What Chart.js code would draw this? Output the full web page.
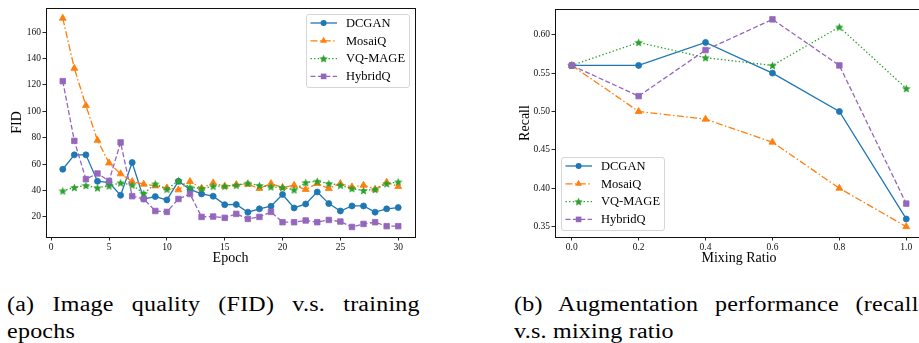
<!DOCTYPE html>
<html><head><meta charset="utf-8">
<script src="https://cdn.jsdelivr.net/npm/chart.js@4/dist/chart.umd.min.js"></script>
<style>
html,body{margin:0;padding:0;background:#fff;width:919px;height:343px;overflow:hidden;position:relative}
#c1{position:absolute;left:0;top:0}
#c2{position:absolute;left:505px;top:0}
.cap{position:absolute;width:344px;font-family:"Liberation Serif";font-size:20px;line-height:27px;letter-spacing:0.2px;color:#000;white-space:nowrap;transform:scaleX(1.2);transform-origin:0 0}
.cap .l1{text-align:justify;text-align-last:justify;white-space:normal}
#cap1{left:7px;top:291px}
#cap2{left:514px;top:291px}
</style></head><body>
<canvas id="c1" width="440" height="270"></canvas>
<canvas id="c2" width="430" height="270"></canvas>
<div class="cap" id="cap1"><div class="l1">(a) Image quality (FID) v.s. training</div><div>epochs</div></div>
<div class="cap" id="cap2"><div class="l1">(b) Augmentation performance (recall)</div><div>v.s. mixing ratio</div></div>
<script>
// ---------- data ----------
const seriesNames = ['DCGAN', 'MosaiQ', 'VQ-MAGE', 'HybridQ'];
const epochs = [1,2,3,4,5,6,7,8,9,10,11,12,13,14,15,16,17,18,19,20,21,22,23,24,25,26,27,28,29,30];
const dcganFID  = [56.1,67,67,47,46,36.4,61.2,33.6,35.4,32.9,47,40.8,37.4,35.7,29.3,29.4,23.6,26.1,28.1,37,26.8,29.8,38.9,30.1,24.5,28.3,28.3,23.6,26.1,27.1];
const mosaiqFID = [170.4,132.5,104.3,78,60.9,52.6,46.8,44.8,43.5,42,40.5,46.8,41.7,45.8,43.3,44.5,44.8,41.5,45.3,42.3,44,40.8,45.3,41.5,45.3,42.7,44,41,46.3,43];
const vqFID     = [39.7,42.3,43.8,42,43.5,45.8,44.2,37.7,45,41,47.3,42.5,41.5,43.3,43.3,44,45.5,43.8,42.8,42.3,40.5,46,47,45.3,44,41.5,40,40.8,45.2,46.5];
const hybridFID = [122.8,77.6,48.6,52.9,47.3,76.4,35.7,33.6,24.5,23.8,33.6,37.4,20,20.3,19.3,22.3,18.5,20,23.8,16,16,17.3,16,17.7,16.5,12.4,14.7,16,13,13];

const ratios    = [0.0,0.2,0.4,0.6,0.8,1.0];
const dcganRec  = [0.56,0.56,0.59,0.55,0.50,0.36];
const mosaiqRec = [0.56,0.50,0.49,0.46,0.40,0.35];
const vqRec     = [0.56,0.59,0.57,0.56,0.61,0.53];
const hybridRec = [0.56,0.52,0.58,0.62,0.56,0.38];

const epochTicks = [0,5,10,15,20,25,30];
const fidTicks   = [20,40,60,80,100,120,140,160];
const ratioTicks = [0.0,0.2,0.4,0.6,0.8,1.0];
const recallTicks = [0.35,0.40,0.45,0.50,0.55,0.60];

// ---------- styles ----------
const colors = ['#1f77b4','#ff7f0e','#2ca02c','#9467bd'];
const dashes = [[], [7,2.4,1.5,2.4], [1.4,2.2], [5,2.4]];
const SERIF = 'Liberation Serif';

function makeStar(color, size){
  const c = document.createElement('canvas'); c.width = c.height = size;
  const g = c.getContext('2d'); const cx = size/2, cy = size/2 + 0.4, R = size/2, r = R*0.45;
  g.beginPath();
  for (let i=0;i<10;i++){ const a = -Math.PI/2 + i*Math.PI/5; const rr = i%2 ? r : R; g.lineTo(cx+rr*Math.cos(a), cy+rr*Math.sin(a)); }
  g.closePath(); g.fillStyle = color; g.fill();
  return c;
}
const star = makeStar(colors[2], 9);
const pStyles = ['circle','triangle',star,'rect'];
const pRadius = [3,4,4,3.9];

function buildDatasets(xs, ys){
  return ys.map((vals,i)=>({
    label: seriesNames[i],
    data: vals.map((v,j)=>({x:xs[j], y:v})),
    borderColor: colors[i], backgroundColor: colors[i],
    borderWidth: 1.3, borderDash: dashes[i],
    pointStyle: pStyles[i], pointRadius: pRadius[i], pointBorderWidth: 0.8,
    pointBorderColor: colors[i], pointBackgroundColor: colors[i],
    tension: 0, fill: false, order: 3 - i
  }));
}

function drawMarker(ctx, i, x, y){
  ctx.save(); ctx.fillStyle = colors[i]; ctx.setLineDash([]);
  if (i===0){ ctx.beginPath(); ctx.arc(x,y,3,0,Math.PI*2); ctx.fill(); }
  else if (i===1){ const r=4; ctx.beginPath(); ctx.moveTo(x, y-r); ctx.lineTo(x+r*0.866, y+r*0.5); ctx.lineTo(x-r*0.866, y+r*0.5); ctx.closePath(); ctx.fill(); }
  else if (i===2){ ctx.drawImage(star, x-4.5, y-4.5); }
  else { ctx.fillRect(x-2.8, y-2.8, 5.6, 5.6); }
  ctx.restore();
}

function legendFrame(pos){
  return {
    id: 'legendFrame',
    afterDraw(chart){
      const ctx = chart.ctx, a = chart.chartArea;
      ctx.save(); ctx.strokeStyle = '#111'; ctx.lineWidth = 1; ctx.setLineDash([]);
      ctx.strokeRect(Math.round(a.left)+0.5, Math.round(a.top)+0.5, Math.round(a.right-a.left), Math.round(a.bottom-a.top));
      ctx.restore();
      const w = 103, h = 73;
      const bx = pos === 'tr' ? a.right - 6 - w : a.left + 6;
      const by = pos === 'tr' ? a.top + 6 : a.bottom - 7 - h;
      ctx.save();
      ctx.beginPath();
      if (ctx.roundRect) ctx.roundRect(bx+0.5, by+0.5, w, h, 2.5); else ctx.rect(bx+0.5, by+0.5, w, h);
      ctx.fillStyle = 'rgba(255,255,255,0.85)'; ctx.fill();
      ctx.strokeStyle = '#d6d6d6'; ctx.lineWidth = 1; ctx.stroke();
      ctx.font = '12.5px "' + SERIF + '"'; ctx.textBaseline = 'middle'; ctx.fillStyle = '#000';
      seriesNames.forEach((name,i)=>{
        const cy = by + 9 + i*17.8;
        ctx.save(); ctx.strokeStyle = colors[i]; ctx.lineWidth = 1.3; ctx.setLineDash(dashes[i]);
        ctx.beginPath(); ctx.moveTo(bx+4.5, cy); ctx.lineTo(bx+31, cy); ctx.stroke(); ctx.restore();
        drawMarker(ctx, i, bx+17.6, cy);
        ctx.fillText(name, bx+40, cy+0.5);
      });
      ctx.restore();
    }
  };
}

function axisCommon(ticksArr, fmt){
  return {
    type: 'linear',
    afterBuildTicks: s => { s.ticks = ticksArr.map(v=>({value:v})); },
    ticks: { font:{family:SERIF, size:9.5}, color:'#111', padding:1.5, maxRotation:0, autoSkip:false, callback: fmt },
    grid: { display:true, drawOnChartArea:false, drawTicks:true, tickLength:3.5, tickWidth:0.9, tickColor:'#111' },
    border: { display:false }
  };
}

Chart.defaults.animation = false;

new Chart(document.getElementById('c1'), {
  type: 'line',
  data: { datasets: buildDatasets(epochs, [dcganFID, mosaiqFID, vqFID, hybridFID]) },
  options: {
    responsive:false, animation:false, devicePixelRatio:1,
    layout: { padding: { top:8, right:25, left:0, bottom:0 } },
    plugins: { legend:{display:false}, tooltip:{enabled:false} },
    scales: {
      x: Object.assign(axisCommon(epochTicks, v=>String(v)), {
        min:-0.45, max:31.45,
        title:{display:true, text:'Epoch', font:{family:SERIF, size:14}, color:'#000', padding:{top:0, bottom:3.6}},
        afterFit: s => { s.height = 33; }
      }),
      y: Object.assign(axisCommon(fidTicks, v=>String(v)), {
        min:4.8, max:178.2,
        title:{display:true, text:'FID', font:{family:SERIF, size:14}, color:'#000', padding:{top:8.6, bottom:0}},
        afterFit: s => { s.width = 46; }
      })
    }
  },
  plugins: [legendFrame('tr')]
});

new Chart(document.getElementById('c2'), {
  type: 'line',
  data: { datasets: buildDatasets(ratios, [dcganRec, mosaiqRec, vqRec, hybridRec]) },
  options: {
    responsive:false, animation:false, devicePixelRatio:1,
    layout: { padding: { top:9, right:12, left:0, bottom:0 } },
    plugins: { legend:{display:false}, tooltip:{enabled:false} },
    scales: {
      x: Object.assign(axisCommon(ratioTicks, v=>Number(v).toFixed(1)), {
        min:-0.05, max:1.05,
        title:{display:true, text:'Mixing Ratio', font:{family:SERIF, size:14}, color:'#000', padding:{top:0, bottom:3.6}},
        afterFit: s => { s.height = 33; }
      }),
      y: Object.assign(axisCommon(recallTicks, v=>Number(v).toFixed(2)), {
        min:0.3365, max:0.6335,
        title:{display:true, text:'Recall', font:{family:SERIF, size:14}, color:'#000', padding:{top:11.6, bottom:0}},
        afterFit: s => { s.width = 50; }
      })
    }
  },
  plugins: [legendFrame('bl')]
});
</script>
</body></html>
